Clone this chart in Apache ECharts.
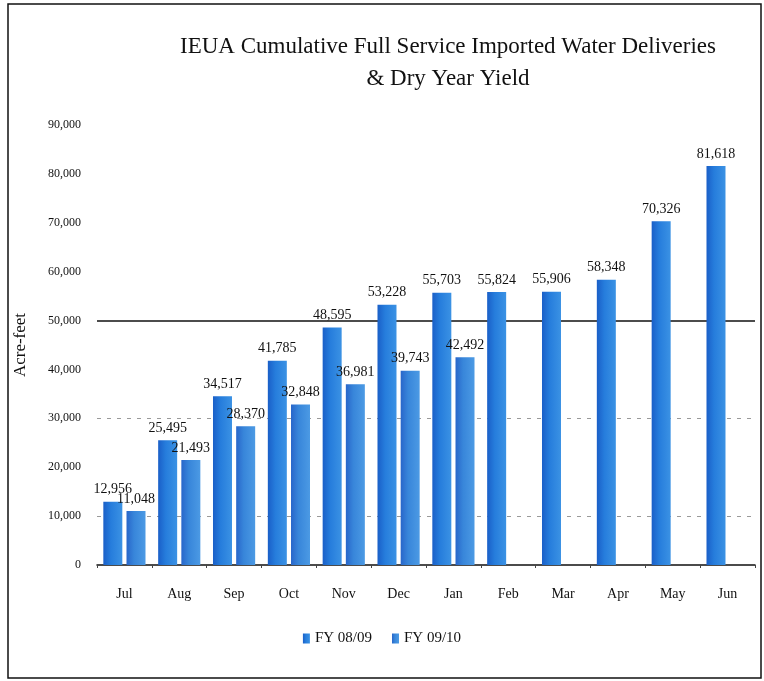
<!DOCTYPE html>
<html>
<head>
<meta charset="utf-8">
<script src="https://cdn.jsdelivr.net/npm/echarts@6/dist/echarts.min.js"></script>
<style>
html,body{margin:0;padding:0;background:#fff;}
#chart{width:764px;height:681px;}
</style>
</head>
<body>
<div id="chart"></div>
<script>
const categories = ['Jul','Aug','Sep','Oct','Nov','Dec','Jan','Feb','Mar','Apr','May','Jun'];
const fy0809 = [12956, 25495, 34517, 41785, 48595, 53228, 55703, 55824, 55906, 58348, 70326, 81618];
const fy0910 = [11048, 21493, 28370, 32848, 36981, 39743, 42492, null, null, null, null, null];
const seriesNames = ['FY 08/09', 'FY 09/10'];
const yTicks = [0, 10000, 20000, 30000, 40000, 50000, 60000, 70000, 80000, 90000];

const FONT = '"Liberation Serif", "DejaVu Serif", serif';
const chart = echarts.init(document.getElementById('chart'));

function grad(c0, c1, c2) {
  return new echarts.graphic.LinearGradient(0, 0, 1, 0, [
    {offset: 0, color: c0}, {offset: 0.4, color: c1}, {offset: 1, color: c2}
  ]);
}

const dashColors = yTicks.map(v => (v === 10000 || v === 30000) ? '#9a9a9a' : 'rgba(0,0,0,0)');
const solidColors = yTicks.map(v => v === 50000 ? '#111' : 'rgba(0,0,0,0)');

chart.setOption({
  animation: false,
  backgroundColor: '#fff',
  title: {
    text: 'IEUA Cumulative Full Service Imported Water Deliveries\n& Dry Year Yield',
    left: 443, top: 26, textAlign: 'center',
    textStyle: {fontFamily: FONT, fontSize: 23, fontWeight: 'normal', color: '#111', lineHeight: 32}
  },
  legend: {
    data: seriesNames,
    left: 'center', top: 626,
    itemWidth: 7, itemHeight: 10, itemGap: 20,
    icon: 'rect',
    textStyle: {fontFamily: FONT, fontSize: 15, color: '#111'}
  },
  graphic: [{
    type: 'rect', shape: {x: 8, y: 4, width: 753, height: 674},
    style: {fill: 'none', stroke: '#111', lineWidth: 1.5}, z: -1
  }],
  grid: {left: 97, right: 9, top: 125, bottom: 116},
  xAxis: {
    type: 'category', data: categories,
    axisLine: {lineStyle: {color: '#111', width: 1.5}},
    axisTick: {show: true, length: 3, lineStyle: {color: '#444'}},
    axisLabel: {fontFamily: FONT, fontSize: 14, color: '#111', margin: 22}
  },
  yAxis: [{
    type: 'value', min: 0, max: 90000, interval: 10000,
    name: 'Acre-feet', nameLocation: 'middle', nameGap: 68, nameRotate: 90,
    nameTextStyle: {fontFamily: FONT, fontSize: 17, color: '#111'},
    axisLine: {show: false},
    axisTick: {show: false},
    axisLabel: {fontFamily: FONT, fontSize: 12, color: '#111', margin: 16,
      formatter: v => v === 0 ? '0' : v.toLocaleString('en-US')},
    splitLine: {show: true, lineStyle: {color: dashColors, type: [4, 6], width: 1}}
  }, {
    type: 'value', min: 0, max: 90000, interval: 10000, position: 'left',
    axisLine: {show: false}, axisTick: {show: false}, axisLabel: {show: false},
    splitLine: {show: true, lineStyle: {color: solidColors, width: 1.5}}
  }],
  series: [{
    name: seriesNames[0], type: 'bar', data: fy0809, yAxisIndex: 0,
    barWidth: 19, barGap: '22%',
    itemStyle: {color: grad('#1a5fc8', '#267ddc', '#3b92e4')},
    label: {show: true, position: 'top', distance: 5, fontFamily: FONT, fontSize: 14, color: '#111',
      formatter: p => p.value.toLocaleString('en-US')}
  }, {
    name: seriesNames[1], type: 'bar', data: fy0910, yAxisIndex: 0,
    barWidth: 19,
    itemStyle: {color: grad('#2866ca', '#3886da', '#4c9ae4')},
    label: {show: true, position: 'top', distance: 5, fontFamily: FONT, fontSize: 14, color: '#111',
      formatter: p => p.value == null ? '' : p.value.toLocaleString('en-US')}
  }]
});
</script>
</body>
</html>
